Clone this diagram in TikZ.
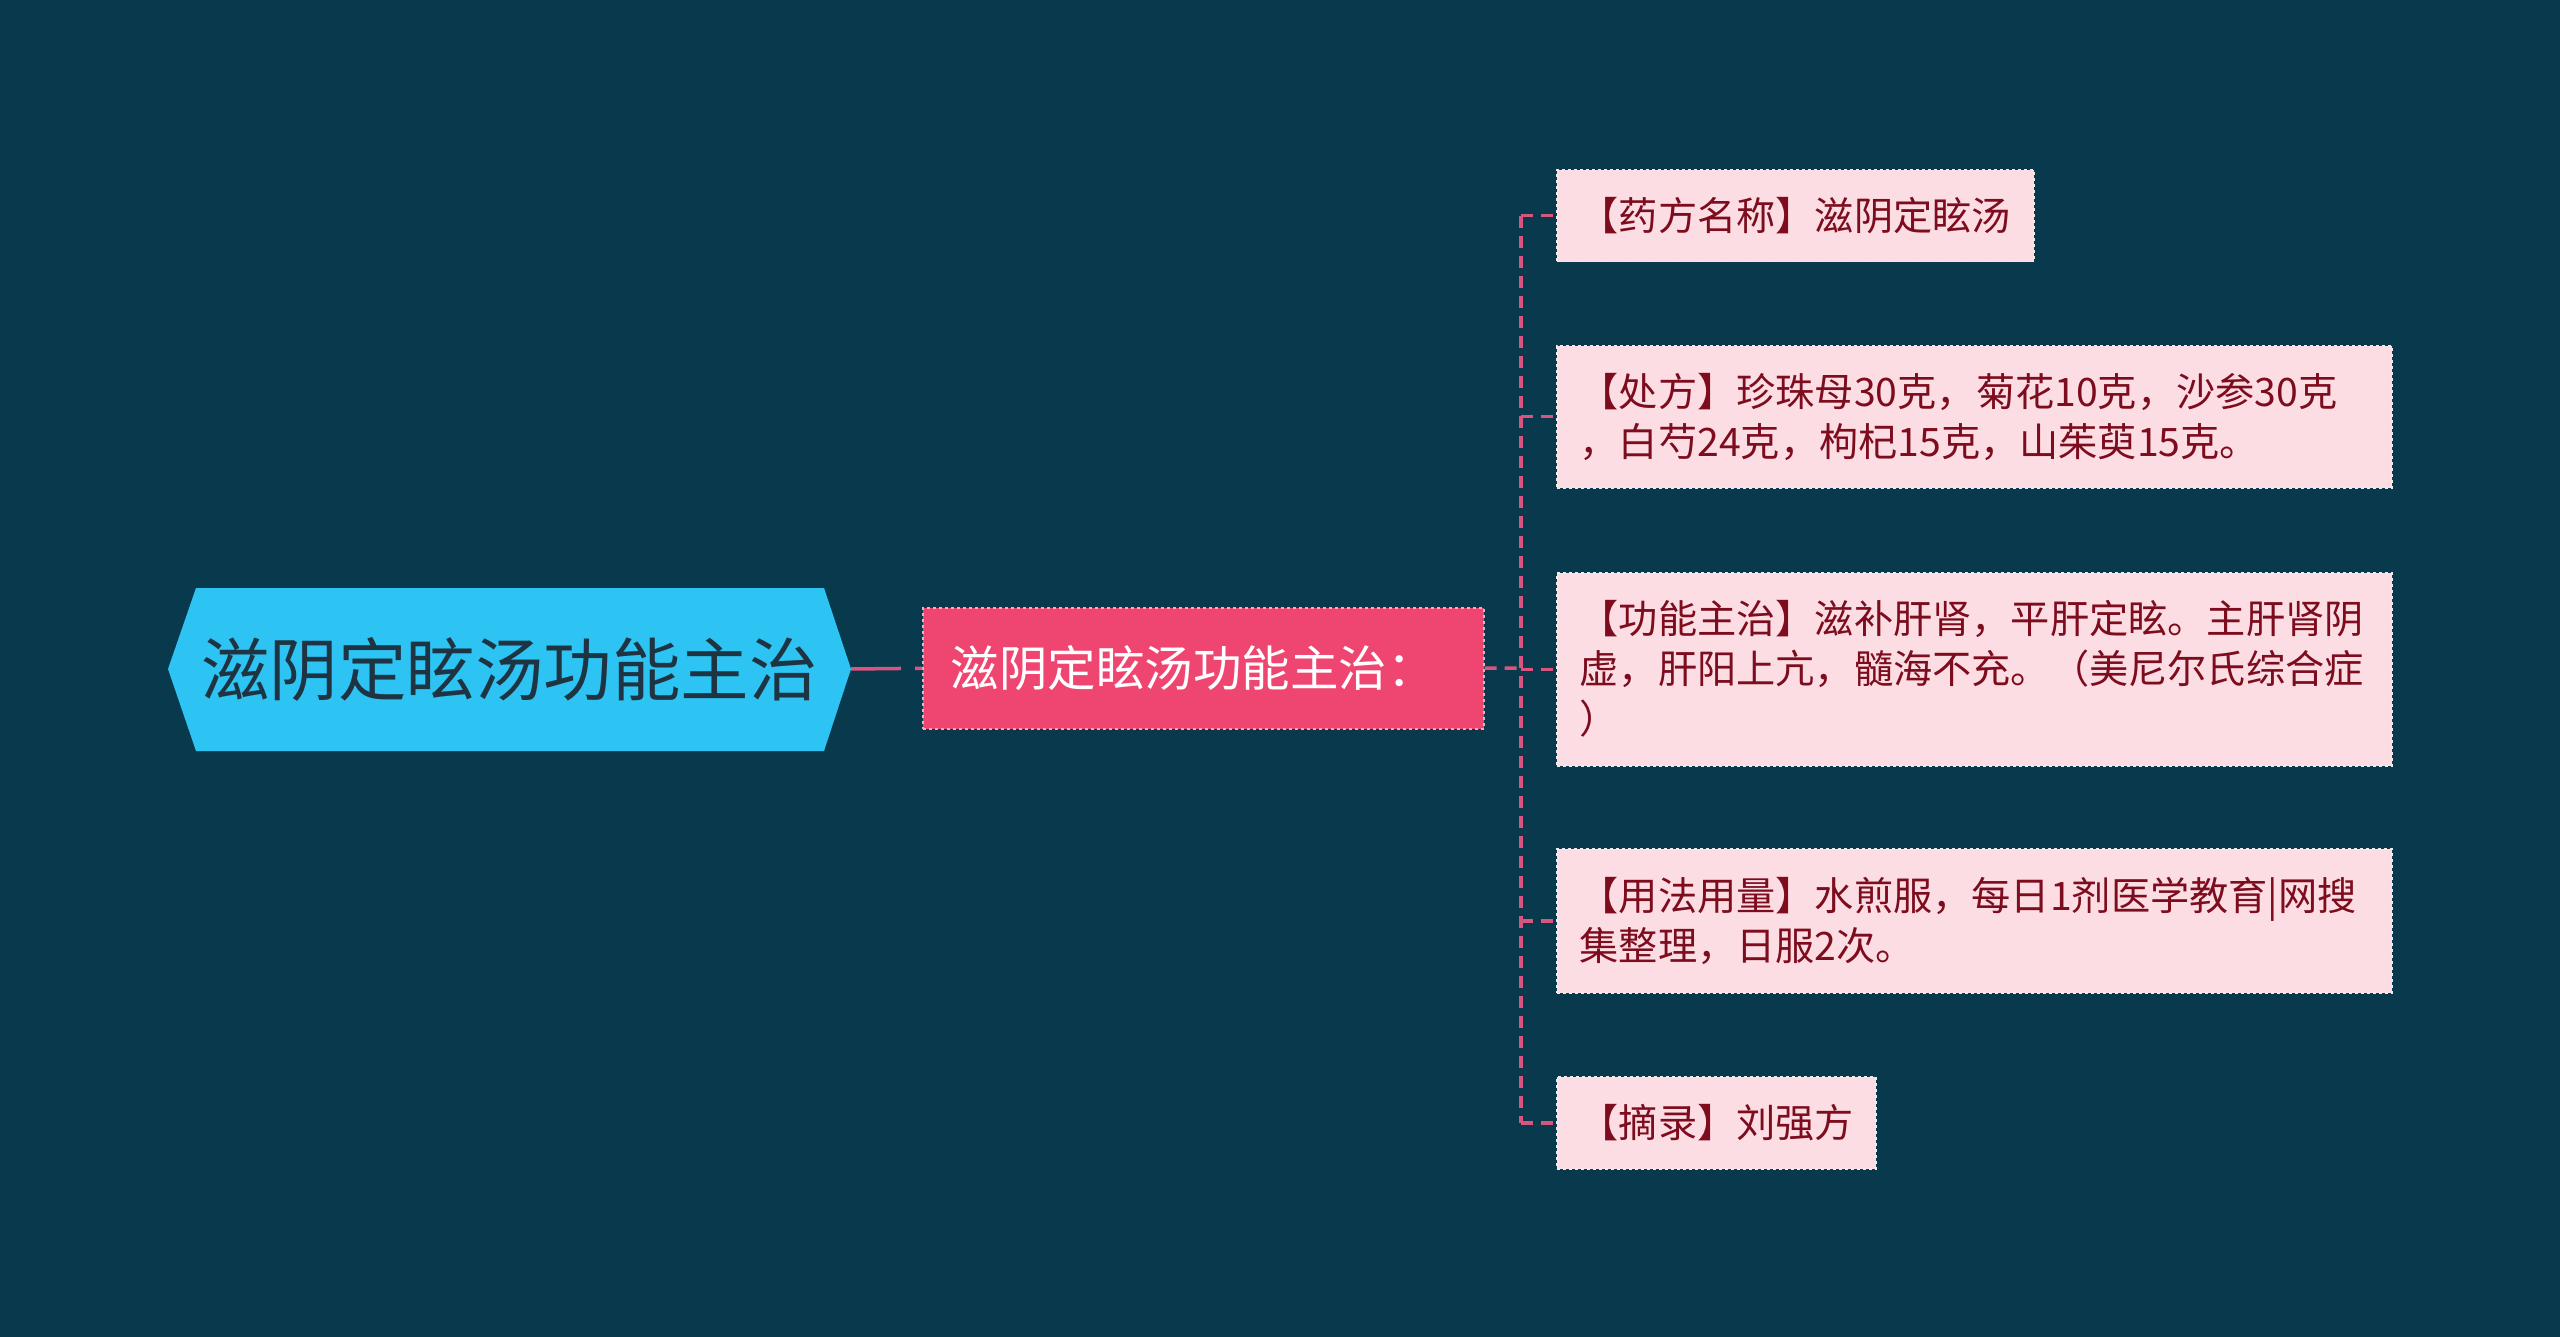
\documentclass[tikz,border=0pt]{standalone}
\usepackage{fontspec}
\setmainfont{Noto Sans CJK SC}
\definecolor{bgc}{RGB}{8,57,76}
\definecolor{rootfill}{RGB}{45,196,243}
\definecolor{roottext}{RGB}{30,52,66}
\definecolor{childfill}{RGB}{239,70,113}
\definecolor{childborder}{RGB}{250,170,190}
\definecolor{leaffill}{RGB}{252,221,227}
\definecolor{leaftext}{RGB}{125,12,30}
\definecolor{conncol}{RGB}{217,85,127}
\tikzset{
  conn/.style={draw=conncol, line width=3.5pt, dash pattern=on 12pt off 8pt},
  rootconn/.style={draw=conncol, line width=3.5pt, dash pattern=on 50pt off 14pt},
  childbox/.style={rectangle, fill=childfill, draw=childborder, line width=1.5pt, dashed,
    anchor=north west, inner xsep=28pt, inner ysep=0pt, minimum width=561pt, minimum height=121pt,
    text width=505pt, align=left, text=white, font=\fontsize{48.5}{56}\selectfont},
  leafbox/.style={rectangle, fill=leaffill, draw=white!85!gray, line width=1.5pt, dashed,
    anchor=north west, inner xsep=23pt, inner ysep=0pt, align=left, text=leaftext,
    font=\fontsize{39.2}{50}\selectfont},
}
\begin{document}
\begin{tikzpicture}[x=1pt,y=-1pt]
\fill[bgc] (0,0) rectangle (2560,1337);
\useasboundingbox (0,0) rectangle (2560,1337);
% root hexagon
\fill[rootfill] (168,669) -- (196,588) -- (824,588) -- (851,669) -- (824,751) -- (196,751) -- cycle;
\node[rectangle, minimum width=683pt, minimum height=163pt, inner sep=0pt, text=roottext,
  font=\fontsize{68.5}{80}\selectfont] (root) at (509.5,669) {滋阴定眩汤功能主治};
% child
\node[childbox] (child) at (922,607) {滋阴定眩汤功能主治：};
% leaves
\node[leafbox, text width=431pt, minimum height=92pt] (leaf1) at (1556,169) {【药方名称】滋阴定眩汤};
\node[leafbox, text width=789pt, minimum height=142pt] (leaf2) at (1556,345) {【处方】珍珠母30克，菊花10克，沙参30克\\，白芍24克，枸杞15克，山茱萸15克。};
\node[leafbox, text width=789pt, minimum height=193pt] (leaf3) at (1556,572) {【功能主治】滋补肝肾，平肝定眩。主肝肾阴\\虚，肝阳上亢，髓海不充。（美尼尔氏综合症\\）};
\node[leafbox, text width=789pt, minimum height=144pt] (leaf4) at (1556,848) {【用法用量】水煎服，每日1剂医学教育|网搜\\集整理，日服2次。};
\node[leafbox, text width=273pt, minimum height=92pt] (leaf5) at (1556,1076) {【摘录】刘强方};
% connectors
\coordinate (tr) at (1521,668);
\draw[rootconn] (root.east) -- (child.west);
\draw[conn] (child.east) -- (tr);
\draw[conn] (tr |- leaf1.west) -- (tr |- leaf5.west);
\foreach \n in {1,...,5} {
  \draw[conn] (tr |- leaf\n.west) -- (leaf\n.west);
}
\end{tikzpicture}
\end{document}
